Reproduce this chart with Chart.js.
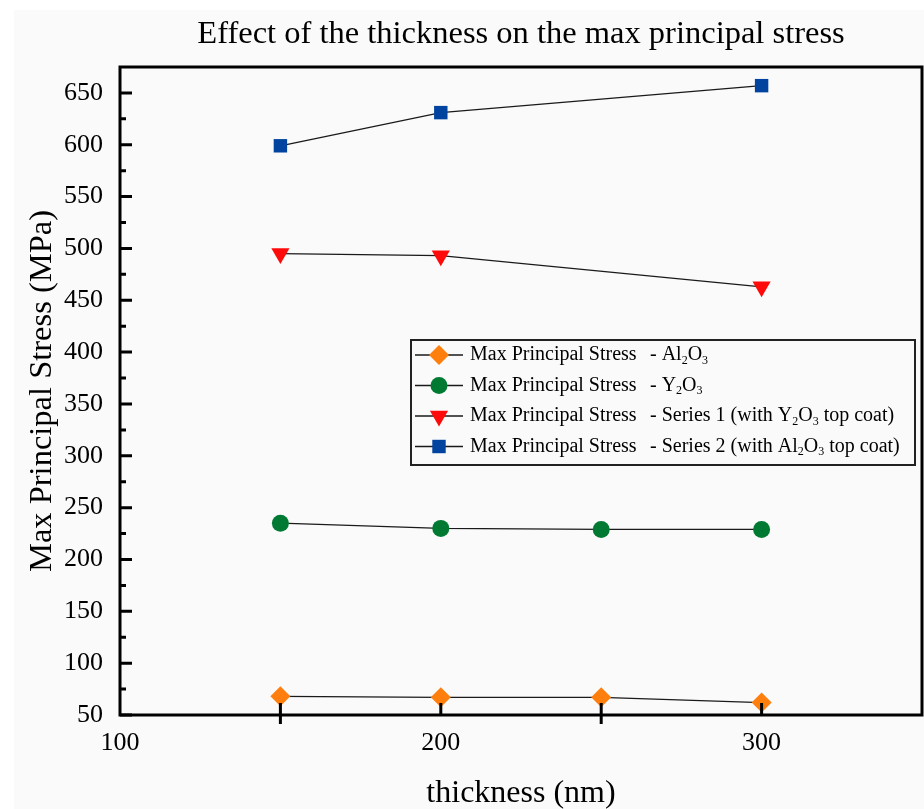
<!DOCTYPE html>
<html>
<head>
<meta charset="utf-8">
<script src="https://cdn.jsdelivr.net/npm/chart.js@4.4.0/dist/chart.umd.min.js"></script>
<style>
  html, body { margin: 0; padding: 0; background: #ffffff; }
  #wrap { width: 924px; height: 809px; }
</style>
</head>
<body>
<div id="wrap"><canvas id="stressChart" width="924" height="809"></canvas></div>
<script>
// ---- data ----
var thickness   = [150, 200, 250, 300];
var stressAl2O3 = [68, 67, 67, 62];
var stressY2O3  = [235, 230, 229, 229];
var stressSer1  = [495, 493, null, 463];
var stressSer2  = [599, 631, null, 657];

var seriesNames = ["- Al_2O_3", "- Y_2O_3", "- Series 1 (with Y_2O_3 top coat)", "- Series 2 (with Al_2O_3 top coat)"];
var xTickLabels = [100, 200, 300];
var xTickMarks  = [150, 200, 250, 300];
var yMajorTicks = [50, 100, 150, 200, 250, 300, 350, 400, 450, 500, 550, 600, 650];
var yMinorTicks = [75, 125, 175, 225, 275, 325, 375, 425, 475, 525, 575, 625];

var SERIF = "'Liberation Serif', 'Times New Roman', serif";

function pts(ys) {
    var out = [];
    thickness.forEach(function (t, i) {
        if (ys[i] !== null) out.push({ x: t, y: ys[i] });
    });
    return out;
}

function makeSet(label, ys, color, style, radius, rot) {
    return {
        label: label,
        data: pts(ys),
        borderColor: "#1a1a1a",
        borderWidth: 1.3,
        backgroundColor: color,
        pointBackgroundColor: color,
        pointBorderWidth: 0,
        pointStyle: style,
        pointRadius: radius,
        pointHoverRadius: radius,
        pointRotation: rot || 0,
        tension: 0,
        clip: false
    };
}

// draws "Al_2O_3" style text with subscripts, returns end x
function subText(ctx, txt, x, y, size) {
    var parts = txt.split(/_(\d)/);
    parts.forEach(function (p, i) {
        if (!p) return;
        if (i % 2 === 1) {
            ctx.font = Math.round(size * 0.62) + "px " + SERIF;
            ctx.fillText(p, x, y + size * 0.28);
        } else {
            ctx.font = size + "px " + SERIF;
            ctx.fillText(p, x, y);
        }
        x += ctx.measureText(p).width;
    });
    return x;
}

// page background (grey area starts a little in from the corner)
var pageBg = {
    id: "pageBg",
    beforeDraw: function (chart) {
        var ctx = chart.ctx;
        ctx.save();
        ctx.fillStyle = "#fafafa";
        ctx.fillRect(14, 10, chart.width, chart.height);
        ctx.restore();
    }
};

// box frame + inward ticks like Origin
var frameTicks = {
    id: "frameTicks",
    afterDatasetsDraw: function (chart) {
        var ctx = chart.ctx, a = chart.chartArea;
        var xs = chart.scales.x, ys = chart.scales.y;
        ctx.save();
        ctx.strokeStyle = "#000";
        ctx.lineWidth = 3;
        ctx.strokeRect(a.left, a.top, a.right - a.left, a.bottom - a.top);
        ctx.beginPath();
        yMajorTicks.forEach(function (v) {
            var p = ys.getPixelForValue(v);
            ctx.moveTo(a.left, p); ctx.lineTo(a.left + 12, p);
        });
        yMinorTicks.forEach(function (v) {
            var p = ys.getPixelForValue(v);
            ctx.moveTo(a.left, p); ctx.lineTo(a.left + 6, p);
        });
        xTickMarks.forEach(function (v) {
            var p = xs.getPixelForValue(v);
            var below = (v % 100 === 50) ? 9 : 0;
            ctx.moveTo(p, a.bottom + below); ctx.lineTo(p, a.bottom - 12);
        });
        ctx.stroke();
        ctx.restore();
    }
};

// legend box drawn inside the plot
var boxLegend = {
    id: "boxLegend",
    afterDraw: function (chart) {
        var ctx = chart.ctx, a = chart.chartArea;
        var bx = a.left + 291, by = a.top + 273, bw = 504, bh = 125;
        ctx.save();
        ctx.fillStyle = "#fafafa";
        ctx.fillRect(bx, by, bw, bh);
        ctx.strokeStyle = "#222";
        ctx.lineWidth = 2;
        ctx.strokeRect(bx, by, bw, bh);
        chart.data.datasets.forEach(function (ds, i) {
            var y = by + 15 + i * 30.5;
            ctx.strokeStyle = "#1a1a1a";
            ctx.lineWidth = 1.5;
            ctx.beginPath();
            ctx.moveTo(bx + 4, y); ctx.lineTo(bx + 52, y);
            ctx.stroke();
            ctx.fillStyle = ds.pointBackgroundColor;
            Chart.helpers.drawPoint(ctx, {
                pointStyle: ds.pointStyle, radius: ds.pointRadius,
                rotation: ds.pointRotation, borderWidth: 0
            }, bx + 28, y);
            ctx.fillStyle = "#000";
            ctx.textBaseline = "middle";
            ctx.textAlign = "left";
            subText(ctx, "Max Principal Stress", bx + 59, y, 20);
            subText(ctx, seriesNames[i], bx + 239, y, 20);
        });
        ctx.restore();
    }
};

var ctx = document.getElementById("stressChart");

var stressChart = new Chart(ctx, {
    type: "line",
    data: {
        datasets: [
            makeSet("Al2O3", stressAl2O3, "#ff7f0e", "rectRot", 10),
            makeSet("Y2O3", stressY2O3, "#007a33", "circle", 8.5),
            makeSet("Series 1", stressSer1, "#ff0a0a", "triangle", 10.5, 180),
            makeSet("Series 2", stressSer2, "#0044a0", "rect", 9.5)
        ]
    },
    options: {
        responsive: false,
        animation: false,
        events: [],
        layout: { autoPadding: false, padding: { left: 0, right: 2, top: 0, bottom: 0 } },
        plugins: {
            legend: { display: false },
            tooltip: { enabled: false },
            title: {
                display: true,
                fullSize: false,
                text: "Effect of the thickness on the max principal stress",
                color: "#000",
                font: { family: SERIF, size: 32.5, weight: "normal" },
                padding: { top: 15, bottom: 13 }
            }
        },
        scales: {
            x: {
                type: "linear",
                min: 100,
                max: 350,
                grid: { display: false, drawTicks: false },
                border: { display: false },
                afterBuildTicks: function (s) {
                    s.ticks = xTickLabels.map(function (v) { return { value: v }; });
                },
                ticks: {
                    color: "#000",
                    padding: 13,
                    font: { family: SERIF, size: 26 }
                },
                title: {
                    display: true,
                    text: "thickness (nm)",
                    color: "#000",
                    font: { family: SERIF, size: 32 },
                    padding: { top: 0, bottom: -4 }
                },
                afterFit: function (s) {
                    s.height = 94;
                    s.paddingLeft = 0;
                    s.paddingRight = 0;
                }
            },
            y: {
                min: 50,
                max: 675,
                grid: { display: false, drawTicks: false },
                border: { display: false },
                afterBuildTicks: function (s) {
                    s.ticks = yMajorTicks.map(function (v) { return { value: v }; });
                },
                ticks: {
                    color: "#000",
                    padding: 17,
                    autoSkip: false,
                    font: { family: SERIF, size: 26 }
                },
                title: {
                    display: true,
                    text: "Max Principal Stress (MPa)",
                    color: "#000",
                    font: { family: SERIF, size: 32.5 },
                    padding: { top: 23, bottom: 0 }
                },
                afterFit: function (s) {
                    s.width = 120;
                    s.paddingTop = 0;
                    s.paddingBottom = 0;
                }
            }
        }
    },
    plugins: [pageBg, frameTicks, boxLegend]
});
</script>
</body>
</html>
